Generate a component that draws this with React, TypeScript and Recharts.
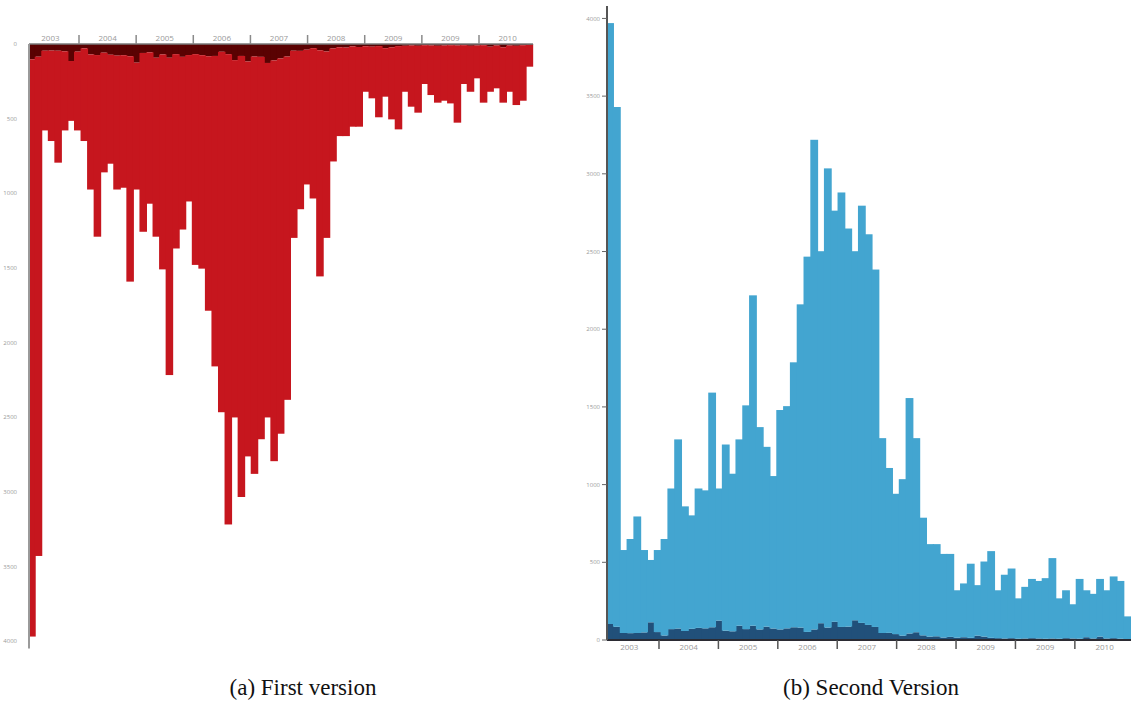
import React from "react";
import { BarChart, Bar, XAxis, YAxis } from "recharts";

// totals per 6-week bin
const totalCounts = [
  3970, 3430, 579, 650, 795, 579, 515, 579, 650, 975,
  1291, 860, 802, 975, 963, 1592, 975, 1258, 1070, 1291,
  1510, 2218, 1370, 1243, 1055, 1480, 1505, 1787, 2160, 2467,
  3219, 2502, 3035, 2763, 2880, 2648, 2502, 2795, 2611, 2384,
  1299, 1107, 941, 1035, 1557, 1299, 787, 617, 617, 554,
  554, 320, 364, 491, 353, 505, 572, 320, 420, 460,
  268, 342, 393, 380, 398, 527, 268, 320, 230, 393,
  320, 297, 393, 320, 409, 380, 152,
];

// the darker part of each bin
const darkCounts = [
  103, 85, 45, 44, 45, 49, 114, 51, 29, 70,
  74, 58, 72, 78, 75, 82, 125, 60, 56, 92,
  70, 92, 68, 86, 74, 68, 75, 82, 80, 52,
  68, 108, 80, 117, 84, 86, 127, 110, 97, 84,
  45, 46, 38, 28, 42, 50, 30, 22, 24, 16,
  20, 15, 18, 14, 28, 22, 14, 12, 10, 12,
  8, 10, 12, 10, 8, 10, 8, 12, 10, 8,
  18, 10, 22, 10, 12, 8, 6,
];

const yearLabels = ["2003", "2004", "2005", "2006", "2007", "2008", "2009", "2009", "2010"];
// year boundaries, in bins
const yearBounds = [7.64, 16.37, 25.1, 33.83, 42.56, 51.29, 60.02, 68.75];
const yTicks = [0, 500, 1000, 1500, 2000, 2500, 3000, 3500, 4000];

const halfYear = (yearBounds[1] - yearBounds[0]) / 2;
const labelPos = yearLabels.map((_, i) =>
  i < yearBounds.length ? yearBounds[i] - halfYear : yearBounds[yearBounds.length - 1] + halfYear
);

const data = totalCounts.map((t, i) => ({
  x: i + 0.5,
  dark: darkCounts[i],
  rest: t - darkCounts[i],
}));

const nBins = totalCounts.length;

// recharts rounds bar width down, so redraw each bar at its full bin width
const fullBin = (binW: number) => (props: any) => {
  const { x, y, width, height, fill } = props;
  if (!height) return <g />;
  const cx = x + width / 2;
  const top = height < 0 ? y + height : y;
  return <rect x={cx - binW / 2 - 0.5} y={top} width={binW + 1} height={Math.abs(height)} fill={fill} />;
};

const YearTick = (props: any) => {
  const { x, y, payload, dir, markColor, textOffset } = props;
  const v = payload.value;
  const li = labelPos.findIndex((p) => Math.abs(p - v) < 1e-6);
  if (li >= 0) {
    return (
      <text
        x={x}
        y={y + dir * textOffset}
        textAnchor="middle"
        dominantBaseline="central"
        fontSize={8}
        fontFamily="Open Sans"
        fill="#9a9a9a"
      >
        {yearLabels[li]}
      </text>
    );
  }
  return <line x1={x} x2={x} y1={y} y2={y + dir * 9} stroke={markColor} strokeWidth={1.5} />;
};

const FirstVersion = () => {
  const w = 545;
  const plotW = 504;
  const binW = plotW / nBins;
  return (
    <BarChart
      width={w}
      height={650}
      data={data}
      margin={{ top: 0, right: w - 29 - plotW, bottom: 1.5, left: 0 }}
      barCategoryGap={0}
    >
      <XAxis
        dataKey="x"
        type="number"
        orientation="top"
        domain={[0, nBins]}
        ticks={[...yearBounds, ...labelPos]}
        interval={0}
        height={44}
        tickSize={0}
        tickMargin={0}
        axisLine={{ stroke: "#7a7a7a", strokeWidth: 1.5 }}
        tick={(p: any) => <YearTick {...p} dir={-1} textOffset={7} markColor="#8a8a8a" />}
      />
      <YAxis
        reversed
        domain={[0, 4050]}
        ticks={yTicks}
        interval={0}
        width={29}
        tickLine={false}
        tickMargin={6}
        axisLine={{ stroke: "#9a9a9a", strokeWidth: 2 }}
        tick={{ fontSize: 6, fill: "#9a9a9a", fontFamily: "Open Sans" }}
      />
      <Bar dataKey="dark" stackId="s" fill="#5a0202" barSize={binW} shape={fullBin(binW)} isAnimationActive={false} />
      <Bar dataKey="rest" stackId="s" fill="#c6161e" barSize={binW} shape={fullBin(binW)} isAnimationActive={false} />
    </BarChart>
  );
};

const SecondVersion = () => {
  const plotW = 524;
  const binW = plotW / nBins;
  return (
    <BarChart
      width={571}
      height={662}
      data={data}
      margin={{ top: 6, right: 0, bottom: 0, left: 0 }}
      barCategoryGap={0}
    >
      <XAxis
        dataKey="x"
        type="number"
        domain={[0, nBins]}
        ticks={[...yearBounds, ...labelPos]}
        interval={0}
        height={22}
        tickSize={0}
        tickMargin={0}
        axisLine={{ stroke: "#2b2b33", strokeWidth: 2 }}
        tick={(p: any) => <YearTick {...p} dir={1} textOffset={6} markColor="#555" />}
      />
      <YAxis
        domain={[0, 4080]}
        ticks={yTicks}
        interval={0}
        width={47}
        tickSize={5}
        tickMargin={2}
        tickLine={{ stroke: "#666", strokeWidth: 1 }}
        axisLine={{ stroke: "#555", strokeWidth: 2 }}
        tick={{ fontSize: 6, fill: "#9a9a9a", fontFamily: "Open Sans" }}
      />
      <Bar dataKey="dark" stackId="s" fill="#21507a" barSize={binW} shape={fullBin(binW)} isAnimationActive={false} />
      <Bar dataKey="rest" stackId="s" fill="#43a5d0" barSize={binW} shape={fullBin(binW)} isAnimationActive={false} />
    </BarChart>
  );
};

const captionStyle: React.CSSProperties = {
  position: "absolute",
  top: 675,
  fontFamily: "'Liberation Serif', serif",
  fontSize: 23,
  color: "#111",
  transform: "translateX(-50%)",
  whiteSpace: "nowrap",
};

export default function App() {
  return (
    <div
      style={{
        position: "absolute",
        left: 0,
        top: 0,
        width: 1131,
        height: 704,
        background: "#fff",
        overflow: "hidden",
      }}
    >
      <div style={{ position: "absolute", left: 0, top: 0 }}>
        <FirstVersion />
      </div>
      <div style={{ position: "absolute", left: 560, top: 0 }}>
        <SecondVersion />
      </div>
      <div style={{ ...captionStyle, left: 303 }}>(a) First version</div>
      <div style={{ ...captionStyle, left: 871 }}>(b) Second Version</div>
    </div>
  );
}
